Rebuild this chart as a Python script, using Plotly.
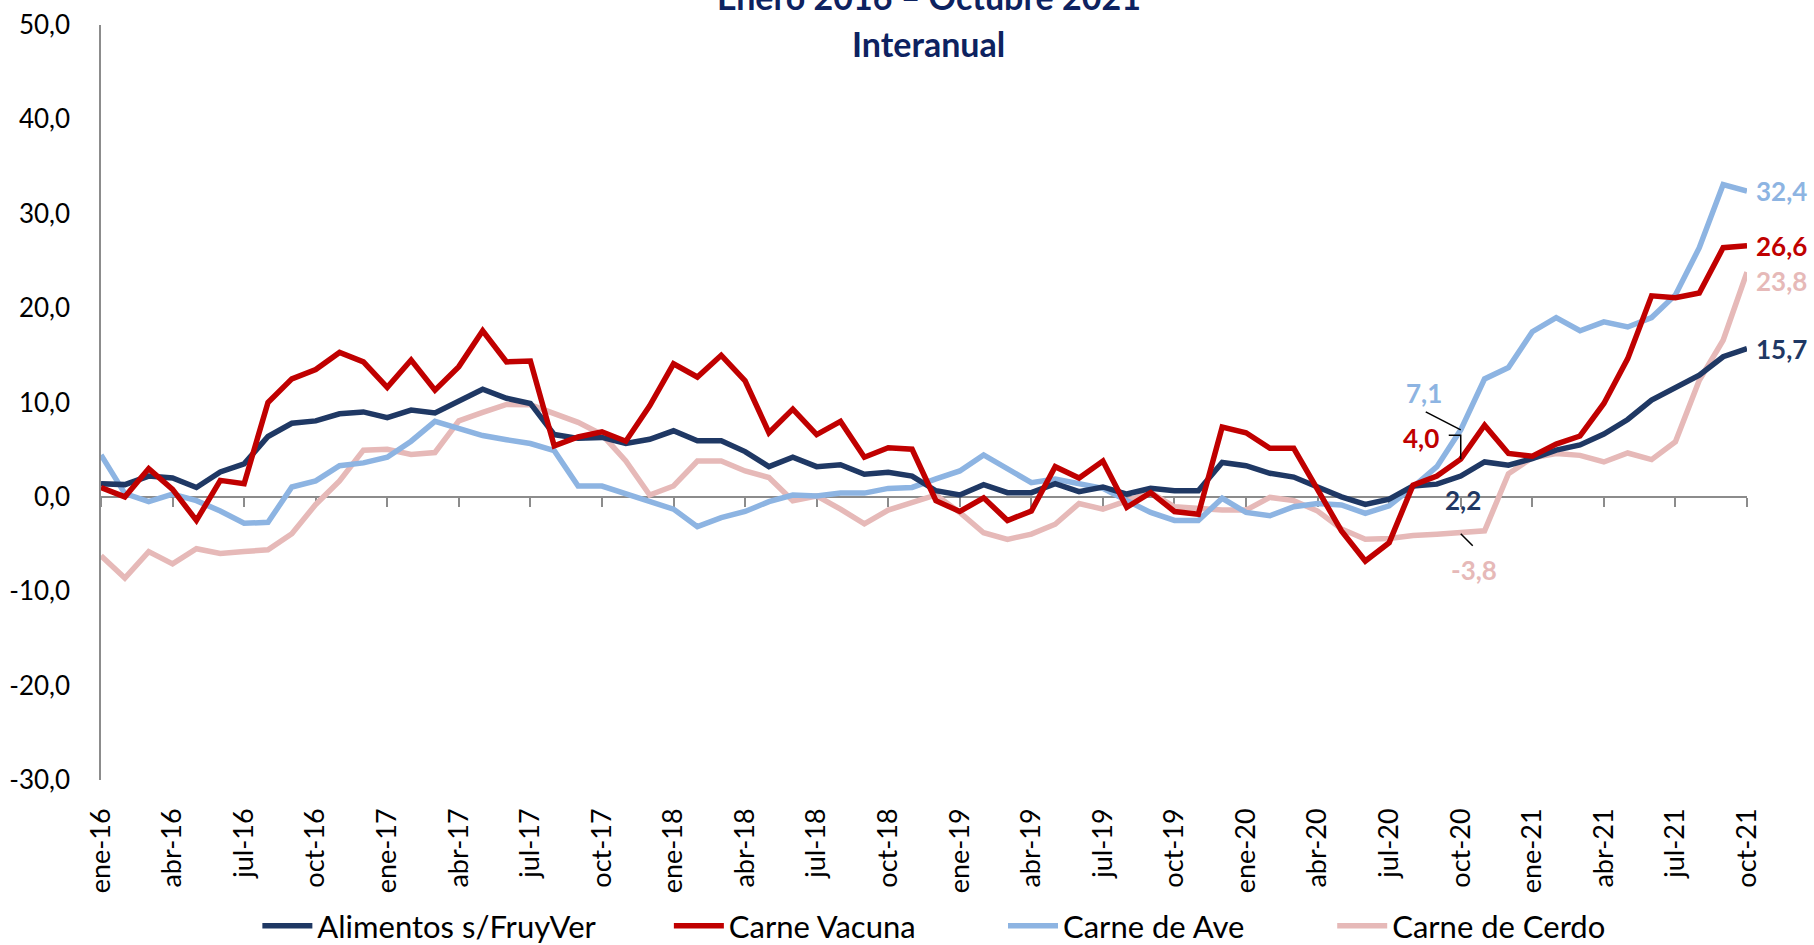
import plotly.graph_objects as go

# Month labels, ene-16 ... oct-21
abbr = ["ene", "feb", "mar", "abr", "may", "jun", "jul", "ago", "sep", "oct", "nov", "dic"]
months = [f"{m}-{y}" for y in range(16, 22) for m in abbr][:70]

# Year-on-year variation (%)
alimentos = [1.4, 1.3, 2.2, 2.0, 1.0, 2.65, 3.5, 6.4, 7.8, 8.05, 8.8, 9.0, 8.4, 9.2, 8.9,
             10.2, 11.4, 10.45, 9.9, 6.6, 6.2, 6.3, 5.65, 6.1, 7.0, 5.95, 5.95, 4.8, 3.2, 4.2,
             3.2, 3.4, 2.4, 2.6, 2.2, 0.65, 0.2, 1.3, 0.45, 0.45, 1.4, 0.55, 1.05, 0.3, 0.9,
             0.65, 0.65, 3.65, 3.3, 2.5, 2.1, 1.05, 0.0, -0.8, -0.25, 1.15, 1.35, 2.2, 3.7, 3.35,
             4.05, 4.95, 5.5, 6.65, 8.2, 10.25, 11.65, 12.9, 14.85, 15.7]
vacuna = [1.0, 0.0, 3.0, 0.8, -2.5, 1.75, 1.4, 10.0, 12.5, 13.5, 15.3, 14.3, 11.6, 14.5, 11.3,
          13.8, 17.6, 14.3, 14.4, 5.4, 6.35, 6.9, 5.9, 9.65, 14.1, 12.7, 15.0, 12.3, 6.8, 9.3,
          6.6, 8.0, 4.2, 5.2, 5.05, -0.4, -1.55, -0.1, -2.5, -1.5, 3.2, 2.0, 3.8, -1.1, 0.45,
          -1.55, -1.85, 7.4, 6.8, 5.15, 5.15, 0.65, -3.6, -6.8, -4.85, 1.25, 2.2, 4.0, 7.6, 4.6,
          4.3, 5.6, 6.45, 9.9, 14.65, 21.3, 21.1, 21.6, 26.4, 26.6]
ave = [4.45, 0.35, -0.5, 0.3, -0.4, -1.5, -2.8, -2.7, 1.05, 1.7, 3.3, 3.6, 4.2, 5.9, 8.0,
       7.2, 6.5, 6.05, 5.65, 4.9, 1.15, 1.15, 0.3, -0.5, -1.3, -3.15, -2.2, -1.55, -0.5, 0.2,
       0.1, 0.4, 0.4, 0.9, 1.0, 1.9, 2.75, 4.45, 2.95, 1.5, 1.9, 1.4, 0.9, -0.4, -1.65,
       -2.5, -2.5, -0.15, -1.65, -2.0, -1.05, -0.7, -0.85, -1.75, -0.95, 1.05, 3.2, 7.1, 12.5, 13.7,
       17.5, 19.0, 17.6, 18.55, 18.0, 19.0, 21.4, 26.4, 33.1, 32.4]
cerdo = [-6.25, -8.6, -5.8, -7.1, -5.5, -6.0, -5.8, -5.6, -3.9, -0.8, 1.7, 4.95, 5.05, 4.5, 4.7,
         8.05, 8.95, 9.8, 9.75, 8.75, 7.9, 6.6, 3.8, 0.2, 1.15, 3.8, 3.8, 2.75, 2.05, -0.4,
         0.1, -1.3, -2.85, -1.4, -0.6, 0.2, -1.65, -3.8, -4.5, -3.95, -2.9, -0.7, -1.3, -0.35, 0.45,
         -1.05, -1.2, -1.4, -1.4, -0.05, -0.4, -1.5, -3.4, -4.5, -4.4, -4.1, -3.95, -3.8, -3.6, 2.45,
         4.15, 4.6, 4.4, 3.7, 4.65, 3.95, 5.85, 12.35, 16.6, 23.8]

y_ticks = [-30, -20, -10, 0, 10, 20, 30, 40, 50]

names = ["Alimentos s/FruyVer", "Carne Vacuna", "Carne de Ave", "Carne de Cerdo"]
series = [alimentos, vacuna, ave, cerdo]
colors = ["#1F3864", "#C00000", "#8DB4E2", "#E6B9B8"]
legend_ids = ["legend", "legend2", "legend3", "legend4"]
legend_left = [0.095, 0.345, 0.548, 0.748]   # paper x of each legend entry

FONT = "Lato"
AXIS_GREY = "#8C8C8C"
TITLE_BLUE = "#0D2260"


def fmt(v):
    return f"{v:.1f}".replace(".", ",")


fig = go.Figure()
# pork on the base axis (drawn first, underneath); the rest on the overlay axis
draw_order = [(3, "x"), (2, "x2"), (0, "x2"), (1, "x2")]
for idx, xa in draw_order:
    fig.add_trace(go.Scatter(
        x=months, y=series[idx], name=names[idx], mode="lines", xaxis=xa, yaxis="y",
        line=dict(color=colors[idx], width=5.5), legend=legend_ids[idx],
    ))

last = len(months) - 1
mark = months.index("oct-20")

annotations = []
# closing values at the right end of each line
end_shift = {0: 0, 1: 0, 2: 0, 3: -9}
for idx in range(4):
    annotations.append(dict(
        x=last, y=series[idx][-1], xref="x", yref="y", text=fmt(series[idx][-1]),
        showarrow=False, xanchor="left", yanchor="middle", xshift=7, yshift=end_shift[idx],
        font=dict(family=FONT, size=26, color=colors[idx], weight="bold"),
    ))

# oct-20 values with their offsets from the point (px)
callouts = {2: (-37, 37), 1: (-40, 21), 0: (2, -24), 3: (13, -37)}
for idx, (dx, dy) in callouts.items():
    annotations.append(dict(
        x=mark, y=series[idx][mark], xref="x", yref="y", text=fmt(series[idx][mark]),
        showarrow=False, xanchor="center", yanchor="middle", xshift=dx, yshift=dy,
        font=dict(family=FONT, size=26, color=colors[idx], weight="bold"),
    ))

# two-line heading, the upper line running off the top edge
annotations.append(dict(
    x=0.503, y=1, xref="paper", yref="paper", text="Enero 2016 – Octubre 2021",
    showarrow=False, xanchor="center", yanchor="middle", yshift=29,
    font=dict(family=FONT, size=34, color=TITLE_BLUE, weight="bold"),
))
annotations.append(dict(
    x=0.503, y=1, xref="paper", yref="paper", text="Interanual",
    showarrow=False, xanchor="center", yanchor="middle", yshift=-18,
    font=dict(family=FONT, size=34, color=TITLE_BLUE, weight="bold"),
))

# leader lines for the oct-20 callouts (pixel offsets from the point)
leader = dict(type="path", xref="x", yref="y", xsizemode="pixel", ysizemode="pixel",
              line=dict(color="black", width=1.5))
shapes = [
    dict(leader, xanchor=mark, yanchor=ave[mark], path="M 0,0 L -35,18"),
    dict(leader, xanchor=mark, yanchor=vacuna[mark], path="M -12,24 L 0,24 L 0,0"),
    dict(leader, xanchor=mark, yanchor=cerdo[mark], path="M 0,-1 L 12,-13"),
]

legend_style = dict(orientation="h", xanchor="left", y=-0.1934, yanchor="middle",
                    font=dict(family=FONT, size=31, color="black"), itemwidth=50,
                    bgcolor="rgba(0,0,0,0)")
legends = {lid: dict(legend_style, x=lx) for lid, lx in zip(legend_ids, legend_left)}

fig.update_layout(
    width=1814, height=945,
    margin=dict(l=101, r=67, t=25, b=165, pad=0, autoexpand=False),
    paper_bgcolor="white", plot_bgcolor="white",
    font=dict(family=FONT, size=26, color="black"),
    showlegend=True,
    annotations=annotations,
    shapes=shapes,
    xaxis=dict(
        type="category", categoryorder="array", categoryarray=months,
        range=[0, last], tickmode="array", tickvals=months[::3],
        tickangle=-90, ticks="", showline=False, showgrid=False, zeroline=False,
        ticklabelstandoff=22, tickfont=dict(family=FONT, size=27, color="black"),
    ),
    xaxis2=dict(
        type="category", categoryorder="array", categoryarray=months,
        overlaying="x", anchor="free", position=(0 - y_ticks[0]) / (y_ticks[-1] - y_ticks[0]),
        range=[0, last], tickmode="array", tickvals=months[::3], ticks="outside",
        ticklen=9, tickwidth=2, tickcolor=AXIS_GREY, showline=True, linecolor=AXIS_GREY,
        linewidth=2, showticklabels=False, showgrid=False, zeroline=False,
        layer="below traces",
    ),
    yaxis=dict(
        range=[y_ticks[0], y_ticks[-1]], tickmode="array", tickvals=y_ticks,
        ticktext=[fmt(v) for v in y_ticks], showgrid=False,
        zeroline=False, showline=True, linecolor=AXIS_GREY, linewidth=1.5, ticks="",
        ticklabelstandoff=24, tickfont=dict(family=FONT, size=26, color="black"),
    ),
)
fig.update_layout(**legends)

fig.write_html("out.html")
